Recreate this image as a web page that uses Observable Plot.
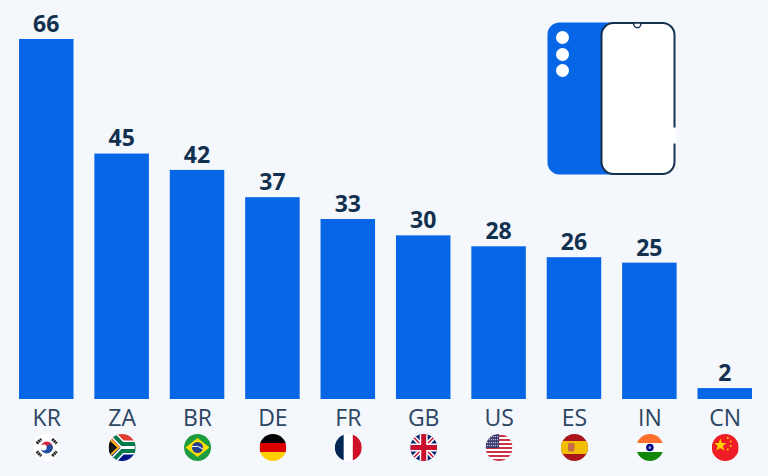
<!DOCTYPE html>
<html><head><meta charset="utf-8">
<style>html,body{margin:0;padding:0;background:#f4f7fb}svg{display:block}</style>
<script src="https://cdn.jsdelivr.net/npm/d3@7"></script>
<script src="https://cdn.jsdelivr.net/npm/@observablehq/plot@0.6"></script>
</head><body><div id="chart"></div>
<script>
const codes = ["KR","ZA","BR","DE","FR","GB","US","ES","IN","CN"];
const values = [66,45,42,37,33,30,28,26,25,2];
const flagArt = {
KR:`<rect width="54" height="54" fill="#fff"/><path d="M15 27a12 12 0 0 1 24 0a6 6 0 0 1-12 0a6 6 0 0 0-12 0" fill="#d8263c"/><path d="M15 27a12 12 0 0 0 24 0a6 6 0 0 0-12 0a6 6 0 0 1-12 0" fill="#1f4fa3"/><path d="M7 19l9-9M38 10l9 9M7 35l9 9M38 44l9-9" stroke="#222" stroke-width="6" stroke-dasharray="4 1"/>`,
ZA:`<rect width="54" height="27" fill="#e03c31"/><rect y="27" width="54" height="27" fill="#001489"/><path d="M4 -4L27 20H56V34H27L4 58" fill="none" stroke="#fff" stroke-width="14"/><path d="M4 -4L27 20H56V34H27L4 58" fill="none" stroke="#007a4d" stroke-width="8"/><path d="M-3 5L20 27L-3 49Z" fill="#111" stroke="#ffb81c" stroke-width="4"/>`,
BR:`<rect width="54" height="54" fill="#1f9c3f"/><path d="M27 8L51 27L27 46L3 27Z" fill="#fedf00"/><circle cx="27" cy="27" r="11" fill="#24408e"/><path d="M16 25q12-3 22 5" stroke="#fff" stroke-width="2" fill="none"/>`,
DE:`<rect width="54" height="18" fill="#000"/><rect y="18" width="54" height="18" fill="#dd0000"/><rect y="36" width="54" height="18" fill="#ffce00"/>`,
FR:`<rect width="18" height="54" fill="#002654"/><rect x="18" width="18" height="54" fill="#fff"/><rect x="36" width="18" height="54" fill="#ce1126"/>`,
GB:`<rect width="54" height="54" fill="#fff"/><path d="M0 0L54 54M54 0L0 54" stroke="#012169" stroke-width="9" stroke-dasharray="8 38 8 0" opacity="0"/><rect width="54" height="54" fill="#012169"/><path d="M0 0L54 54M54 0L0 54" stroke="#fff" stroke-width="9"/><path d="M0 0L54 54M54 0L0 54" stroke="#c8102e" stroke-width="3"/><path d="M27 0V54M0 27H54" stroke="#fff" stroke-width="16"/><path d="M27 0V54M0 27H54" stroke="#c8102e" stroke-width="10"/>`,
US:`<rect width="54" height="54" fill="#fff"/><path d="M0 4H54M0 12H54M0 20H54M0 28H54M0 36H54M0 44H54M0 52H54" stroke="#c8354a" stroke-width="4"/><rect width="27" height="28" fill="#3c3b6e"/><path d="M3 5H25M3 11H25M3 17H25M3 23H25" stroke="#c9cfe6" stroke-width="2.5" stroke-dasharray="2 2"/>`,
ES:`<rect width="54" height="54" fill="#aa151b"/><rect y="14" width="54" height="26" fill="#f1bf00"/><rect x="14" y="18" width="13" height="17" rx="3" fill="#c8694a"/>`,
IN:`<rect width="54" height="18" fill="#ff6f2c"/><rect y="18" width="54" height="18" fill="#fff"/><rect y="36" width="54" height="18" fill="#138808"/><circle cx="27" cy="27" r="7.5" fill="#000080"/><circle cx="27" cy="27" r="3" fill="#8b8fd0"/>`,
CN:`<rect width="54" height="54" fill="#ee1c25"/><path d="M17 9l3 9h9l-7 6l3 9l-8-5l-8 5l3-9l-7-6h9Z" fill="#ffd400"/><circle cx="32" cy="8" r="2" fill="#ffd400"/><circle cx="38" cy="15" r="2" fill="#ffd400"/><circle cx="38" cy="24" r="2" fill="#ffd400"/><circle cx="32" cy="31" r="2" fill="#ffd400"/>`
};
const uri = s => "data:image/svg+xml;utf8," + encodeURIComponent(s);
const flag = c => uri(`<svg xmlns="http://www.w3.org/2000/svg" viewBox="0 0 54 54"><clipPath id="c"><circle cx="27" cy="27" r="27"/></clipPath><g clip-path="url(#c)">${flagArt[c]}</g></svg>`);
const phone = uri(`<svg xmlns="http://www.w3.org/2000/svg" viewBox="0 0 130 154" width="130" height="154">
<rect x="1" y="1" width="92" height="152" rx="12" fill="#0666e6"/>
<rect x="55" y="1.500" width="73" height="151" rx="12" fill="#fff" stroke="#14304f" stroke-width="2"/>
<path d="M87 1.500a3.800 4.800 0 0 0 7.600 0Z" fill="#fff" stroke="#14304f" stroke-width="1.500"/>
<rect x="124" y="106" width="7" height="16" fill="#fff"/>
<circle cx="16" cy="16" r="6.500" fill="#fff"/><circle cx="16" cy="33" r="6.500" fill="#fff"/><circle cx="16" cy="49" r="6.500" fill="#fff"/></svg>`);
const font = '"Open Sans", sans-serif';
const chart = Plot.plot({
  width: 768, height: 476, marginTop: 39, marginBottom: 77, marginLeft: 0, marginRight: 0,
  style: {background: "#f4f7fb", fontFamily: font},
  x: {domain: codes, range: [19, 752], paddingInner: 0.277, paddingOuter: 0, round: false, label: null},
  y: {domain: [0, 66], axis: null},
  marks: [
    Plot.barY(codes, {x: d => d, y: (d, i) => values[i], fill: "#0666e6"}),
    Plot.text(codes, {x: d => d, y: (d, i) => values[i], text: (d, i) => String(values[i]), dy: -15, dx: -0.5, fontSize: 23, fontWeight: 700, fill: "#12304f"}),
    Plot.axisX({tickSize: 0, tickPadding: 10, fontSize: 23, color: "#2b4562", label: null}),
    Plot.image(codes, {x: d => d, frameAnchor: "bottom", src: flag, width: 27, height: 27, dy: 48}),
    Plot.image([0], {frameAnchor: "top-left", src: () => phone, width: 130, height: 154, dx: 611, dy: 59})
  ]
});
document.getElementById("chart").append(chart);
</script></body></html>
